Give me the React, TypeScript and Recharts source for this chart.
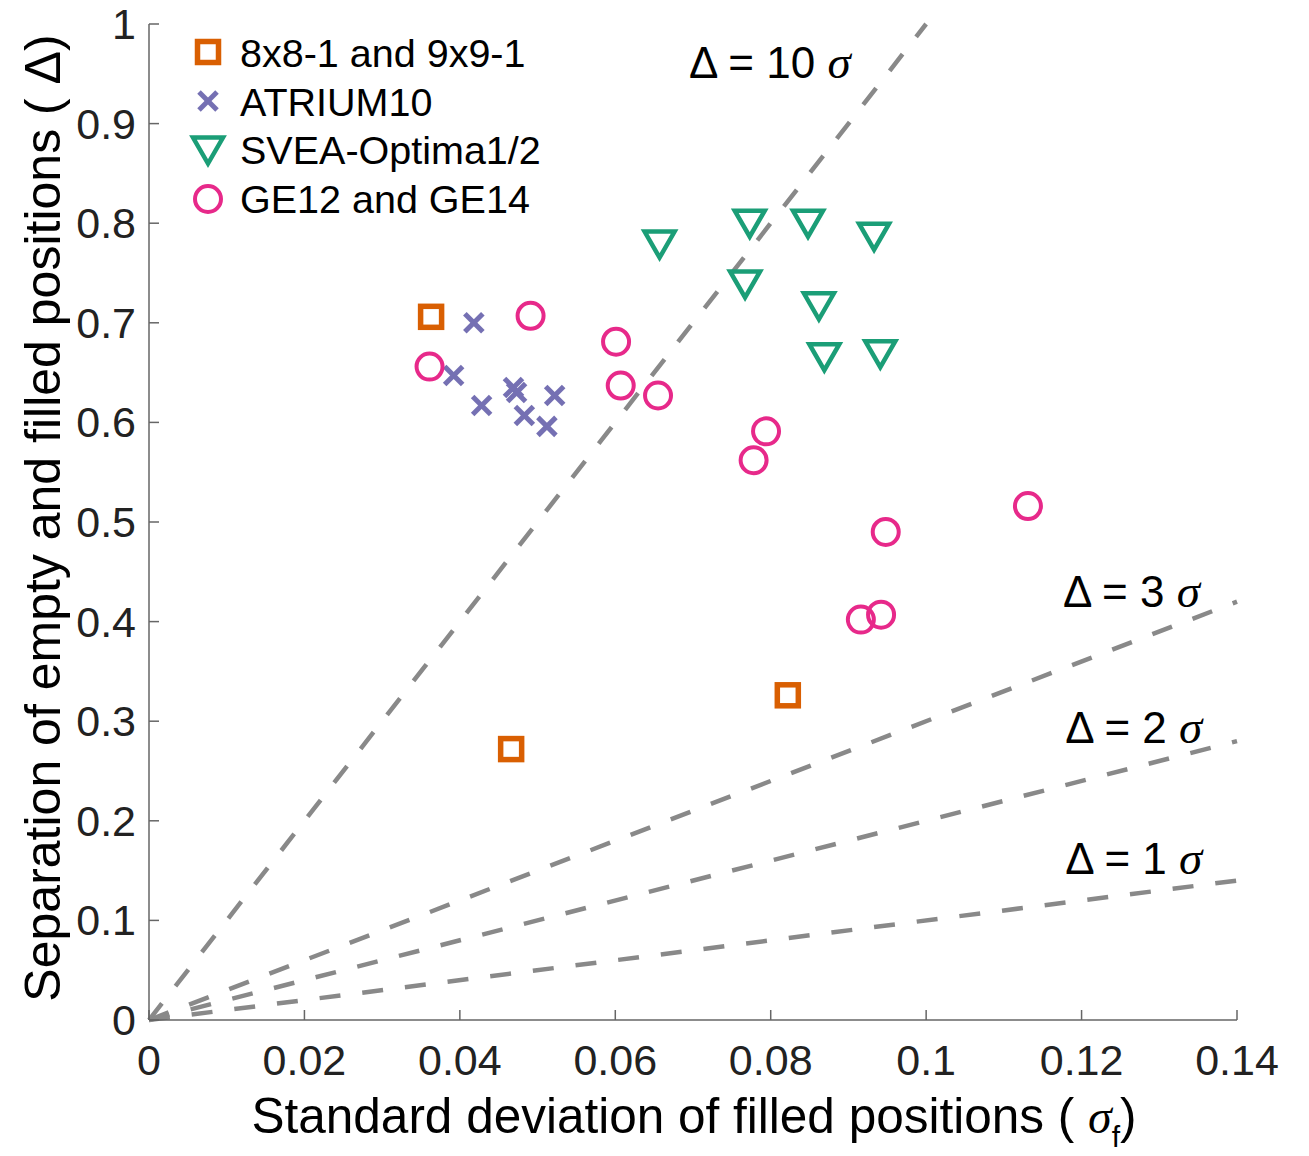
import React from 'react';
import { ScatterChart, Scatter, XAxis, YAxis, ReferenceLine, ReferenceDot, Legend } from 'recharts';

const ORANGE = '#D95F02';
const PURPLE = '#7570B3';
const GREEN = '#1B9E77';
const PINK = '#E7298A';
const GRAY = '#898989';
const SANS = '"Liberation Sans", Arial, Helvetica, sans-serif';
const SERIF = '"Liberation Serif", "Times New Roman", serif';

// 8x8-1 and 9x9-1
const squareX = [0.0363, 0.0466, 0.0822];
const squareY = [0.706, 0.272, 0.326];
// ATRIUM10
const crossX = [0.0418, 0.0392, 0.0428, 0.0469, 0.0473, 0.0522, 0.0483, 0.0512];
const crossY = [0.700, 0.647, 0.617, 0.635, 0.630, 0.627, 0.607, 0.596];
// SVEA-Optima1/2
const triX = [0.0657, 0.0773, 0.0848, 0.0933, 0.0767, 0.0862, 0.0869, 0.0941];
const triY = [0.779, 0.800, 0.800, 0.787, 0.739, 0.717, 0.666, 0.669];
// GE12 and GE14
const circX = [0.0491, 0.0361, 0.0601, 0.0607, 0.0655, 0.0794, 0.0778, 0.1131, 0.0948, 0.0916, 0.0942];
const circY = [0.707, 0.656, 0.681, 0.637, 0.627, 0.591, 0.562, 0.516, 0.490, 0.402, 0.407];

const xTicks = [0, 0.02, 0.04, 0.06, 0.08, 0.1, 0.12, 0.14];
const yTicks = [0, 0.1, 0.2, 0.3, 0.4, 0.5, 0.6, 0.7, 0.8, 0.9, 1];

// Delta = k * sigma reference lines and their end points
const lineK = [10, 3, 2, 1];
const lineEndX = [0.1, 0.14, 0.14, 0.14];
// label anchors (data coordinates)
const labelX = [0.0695, 0.1176, 0.1179, 0.1179];
const labelY = [0.946, 0.415, 0.278, 0.147];

const zip = (xs: number[], ys: number[]) => xs.map((x, i) => ({ x, y: ys[i] }));
const squareData = zip(squareX, squareY);
const crossData = zip(crossX, crossY);
const triData = zip(triX, triY);
const circData = zip(circX, circY);

const SquareMark = ({ cx, cy }: any) => (
  <rect x={cx - 10.5} y={cy - 10.5} width={21} height={21} fill="none" stroke={ORANGE} strokeWidth={5.5} />
);
const CrossMark = ({ cx, cy }: any) => (
  <g stroke={PURPLE} strokeWidth={5}>
    <line x1={cx - 9} y1={cy - 9} x2={cx + 9} y2={cy + 9} />
    <line x1={cx - 9} y1={cy + 9} x2={cx + 9} y2={cy - 9} />
  </g>
);
const TriMark = ({ cx, cy }: any) => (
  <path
    d={`M${cx - 15},${cy - 12.5} L${cx + 15},${cy - 12.5} L${cx},${cy + 13.5} Z`}
    fill="none"
    stroke={GREEN}
    strokeWidth={4.5}
    strokeLinejoin="miter"
  />
);
const CircMark = ({ cx, cy }: any) => (
  <circle cx={cx} cy={cy} r={13} fill="none" stroke={PINK} strokeWidth={4} />
);

const XTick = ({ x, y, payload }: any) => (
  <g>
    <line x1={x} x2={x} y1={y} y2={y - 10} stroke="#666" strokeWidth={1.5} />
    <text x={x} y={y + 55} textAnchor="middle" fontFamily={SANS} fontSize={43} fill="#222">
      {String(payload.value)}
    </text>
  </g>
);
const YTick = ({ x, y, payload }: any) => (
  <g>
    <line x1={x} x2={x + 10} y1={y} y2={y} stroke="#666" strokeWidth={1.5} />
    <text x={x - 13} y={y + 15} textAnchor="end" fontFamily={SANS} fontSize={43} fill="#222">
      {String(payload.value)}
    </text>
  </g>
);

const legendItems = [
  { name: '8x8-1 and 9x9-1', Mark: SquareMark },
  { name: 'ATRIUM10', Mark: CrossMark },
  { name: 'SVEA-Optima1/2', Mark: TriMark },
  { name: 'GE12 and GE14', Mark: CircMark },
];

const LegendContent = () => (
  <svg width={380} height={210} style={{ display: 'block' }}>
    {legendItems.map((it, i) => (
      <g key={it.name}>
        <it.Mark cx={28} cy={27 + 49 * i} />
        <text x={60} y={42 + 48.7 * i} fontFamily={SANS} fontSize={39.5} fill="#000">
          {it.name}
        </text>
      </g>
    ))}
  </svg>
);

const makeLabel = (k: number) => (props: any) => {
  const vb = props.viewBox || {};
  return (
    <text x={vb.x} y={vb.y} fontFamily={SANS} fontSize={44} fill="#000">
      {`Δ = ${k} `}
      <tspan fontFamily={SERIF} fontStyle="italic" fontSize={47}>σ</tspan>
    </text>
  );
};

export default function App() {
  return (
    <div style={{ position: 'absolute', left: 0, top: 0, width: 1309, height: 1156, background: '#fff' }}>
      <ScatterChart width={1309} height={1156} margin={{ top: 24, right: 72, bottom: 0, left: 0 }}>
        <XAxis
          type="number"
          dataKey="x"
          domain={[0, 0.14]}
          ticks={xTicks}
          interval={0}
          height={136}
          tickSize={0}
          tickMargin={0}
          tickLine={false}
          axisLine={{ stroke: '#666', strokeWidth: 1.5 }}
          tick={<XTick />}
          allowDataOverflow
        />
        <YAxis
          type="number"
          dataKey="y"
          domain={[0, 1]}
          ticks={yTicks}
          interval={0}
          width={149}
          tickSize={0}
          tickMargin={0}
          tickLine={false}
          axisLine={{ stroke: '#666', strokeWidth: 1.5 }}
          tick={<YTick />}
          allowDataOverflow
        />
        <Scatter name="8x8-1 and 9x9-1" data={squareData} shape={SquareMark} isAnimationActive={false} />
        <Scatter name="ATRIUM10" data={crossData} shape={CrossMark} isAnimationActive={false} />
        <Scatter name="SVEA-Optima1/2" data={triData} shape={TriMark} isAnimationActive={false} />
        <Scatter name="GE12 and GE14" data={circData} shape={CircMark} isAnimationActive={false} />
        {lineK.map((k, i) => (
          <ReferenceLine
            key={`l${k}`}
            segment={[
              { x: 0, y: 0 },
              { x: lineEndX[i], y: k * lineEndX[i] },
            ]}
            stroke={GRAY}
            strokeWidth={4.5}
            strokeDasharray="21 22"
            ifOverflow="visible"
          />
        ))}
        {lineK.map((k, i) => (
          <ReferenceDot
            key={`d${k}`}
            x={labelX[i]}
            y={labelY[i]}
            r={0}
            fill="none"
            stroke="none"
            ifOverflow="visible"
            label={makeLabel(k)}
          />
        ))}
        <Legend
          layout="vertical"
          align="center"
          verticalAlign="middle"
          wrapperStyle={{ left: 180, top: 25, width: 380, height: 210 }}
          content={<LegendContent />}
        />
      </ScatterChart>
      <svg
        width={1309}
        height={1156}
        style={{ position: 'absolute', left: 0, top: 0, pointerEvents: 'none' }}
      >
        <text x={694} y={1133} textAnchor="middle" fontFamily={SANS} fontSize={49.5} fill="#000">
          {'Standard deviation of filled positions ( '}
          <tspan fontFamily={SERIF} fontStyle="italic" fontSize={48}>σ</tspan>
          <tspan fontSize={30} dy={14}>f</tspan>
          <tspan dy={-14}>)</tspan>
        </text>
        <text
          x={0}
          y={0}
          transform="translate(60,518) rotate(-90)"
          textAnchor="middle"
          fontFamily={SANS}
          fontSize={50}
          fill="#000"
        >
          {'Separation of empty and filled positions ( Δ)'}
        </text>
      </svg>
    </div>
  );
}
